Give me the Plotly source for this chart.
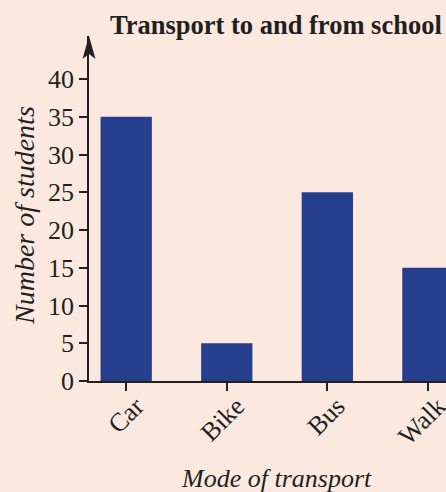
import plotly.graph_objects as go

categories = ["Car", "Bike", "Bus", "Walk"]
students = [35, 5, 25, 15]
y_ticks = [0, 5, 10, 15, 20, 25, 30, 35, 40]

BG = "#FBE9E0"
BAR = "#253F8E"
INK = "#231F20"
FONT = "Liberation Serif"

fig = go.Figure(go.Bar(x=categories, y=students, marker=dict(color=BAR, line=dict(width=0)), width=0.51))

fig.update_layout(
    width=446, height=492,
    paper_bgcolor=BG, plot_bgcolor=BG,
    margin=dict(l=89, r=0, t=36, b=111, pad=0, autoexpand=False),
    showlegend=False,
    font=dict(family=FONT, color=INK, size=26),
    xaxis=dict(
        range=[-0.37, 3.18], showgrid=False, zeroline=False, automargin=False,
        showline=True, linecolor=INK, linewidth=1.5,
        ticks="outside", ticklen=8, tickwidth=1.5, tickcolor=INK,
        tickangle=-45, tickfont=dict(family=FONT, size=26, color=INK),
        ticklabelstandoff=-10, ticklabelshift=10,
    ),
    yaxis=dict(
        range=[0, 45.7], showgrid=False, zeroline=False, automargin=False,
        showline=True, linecolor=INK, linewidth=1.5,
        ticks="outside", ticklen=8, tickwidth=1.5, tickcolor=INK,
        tickvals=y_ticks, tickfont=dict(family=FONT, size=26, color=INK),
    ),
    annotations=[
        dict(text="<b>Transport to and from school</b>", xref="paper", yref="paper",
             x=(108 - 89) / 357, y=(381 - 25) / 345, xanchor="left", yanchor="middle",
             showarrow=False, font=dict(family=FONT, size=26.5, color=INK)),
        dict(text="<i>Number of students</i>", xref="paper", yref="paper",
             x=(24 - 89) / 357, y=(381 - 216) / 345, xanchor="center", yanchor="middle",
             textangle=-90, showarrow=False, font=dict(family=FONT, size=28, color=INK)),
        dict(text="<i>Mode of transport</i>", xref="paper", yref="paper",
             x=(276 - 89) / 357, y=(381 - 478) / 345, xanchor="center", yanchor="middle",
             showarrow=False, font=dict(family=FONT, size=26, color=INK)),
    ],
    shapes=[
        dict(type="path", xref="paper", yref="y", xanchor=0, yanchor=45.7,
             xsizemode="pixel", ysizemode="pixel",
             path="M 0 0 L -6.5 -23 L 0 -18 L 6.5 -23 Z",
             fillcolor=INK, line=dict(width=0)),
        dict(type="line", xref="paper", yref="y", x0=0, x1=0, y0=0, y1=-1.0,
             line=dict(color=INK, width=1.5)),
    ],
)

fig.write_html("out.html", config={"displayModeBar": False},
               post_script="document.body.style.margin='0';document.body.style.overflow='hidden';")
